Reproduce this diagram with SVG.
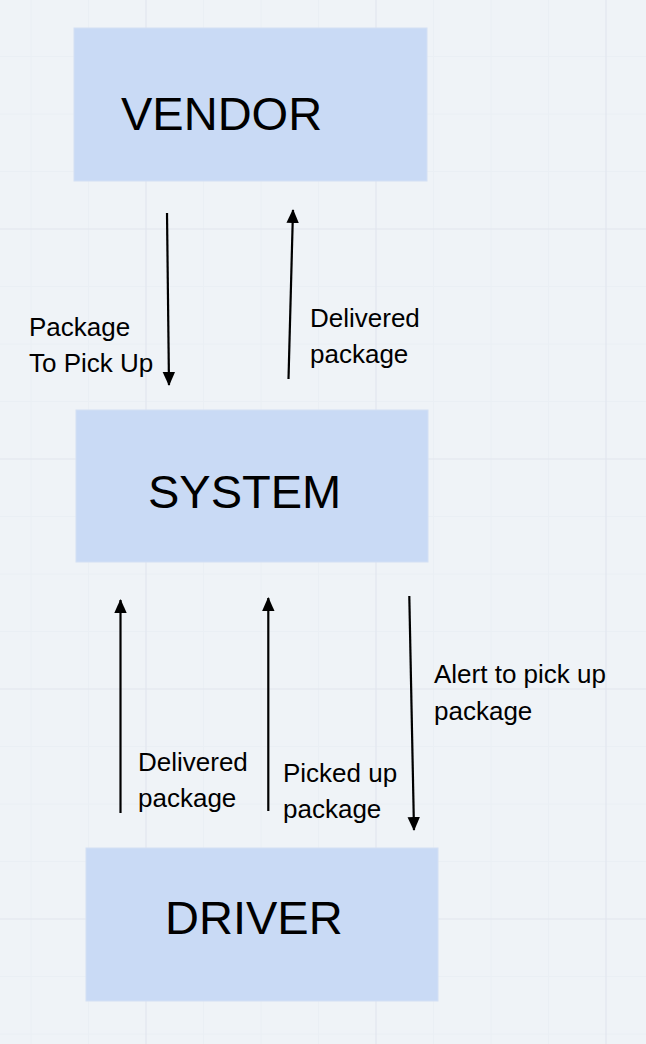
<svg xmlns="http://www.w3.org/2000/svg" width="646" height="1044" viewBox="0 0 646 1044">
  <style>
    .bg { fill: #eff3f7; }
    .minor { stroke: #eaeff4; stroke-width: 1; }
    .major { stroke: #e1e6ee; stroke-width: 1.2; }
    .box { fill: #c9daf5; stroke: #d3e0f4; stroke-width: 1; }
    .title { font-family: "Liberation Sans", Arial, sans-serif; font-size: 47px; fill: #000; }
    .lbl { font-family: "Liberation Sans", Arial, sans-serif; font-size: 26px; fill: #000; }
    .conn { stroke: #000; stroke-width: 2.2; fill: none; marker-end: url(#arrow); }
  </style>
  <defs>
    <marker id="arrow" viewBox="0 0 14 14" refX="13" refY="7" markerWidth="14" markerHeight="14" markerUnits="userSpaceOnUse" orient="auto">
      <path d="M0,0.8 L14,7 L0,13.2 Z" fill="#000"/>
    </marker>
  </defs>
  <rect class="bg" x="0" y="0" width="646" height="1044"/>
  <g id="grid">
    <g class="minor">
      <line x1="31" y1="0" x2="31" y2="1044"/>
      <line x1="88.5" y1="0" x2="88.5" y2="1044"/>
      <line x1="203.5" y1="0" x2="203.5" y2="1044"/>
      <line x1="261" y1="0" x2="261" y2="1044"/>
      <line x1="318.5" y1="0" x2="318.5" y2="1044"/>
      <line x1="433.5" y1="0" x2="433.5" y2="1044"/>
      <line x1="491" y1="0" x2="491" y2="1044"/>
      <line x1="548.5" y1="0" x2="548.5" y2="1044"/>
      <line x1="0" y1="56.5" x2="646" y2="56.5"/>
      <line x1="0" y1="114" x2="646" y2="114"/>
      <line x1="0" y1="171.5" x2="646" y2="171.5"/>
      <line x1="0" y1="286.5" x2="646" y2="286.5"/>
      <line x1="0" y1="344" x2="646" y2="344"/>
      <line x1="0" y1="401.5" x2="646" y2="401.5"/>
      <line x1="0" y1="516.5" x2="646" y2="516.5"/>
      <line x1="0" y1="574" x2="646" y2="574"/>
      <line x1="0" y1="631.5" x2="646" y2="631.5"/>
      <line x1="0" y1="746.5" x2="646" y2="746.5"/>
      <line x1="0" y1="804" x2="646" y2="804"/>
      <line x1="0" y1="861.5" x2="646" y2="861.5"/>
      <line x1="0" y1="976.5" x2="646" y2="976.5"/>
      <line x1="0" y1="1034" x2="646" y2="1034"/>
    </g>
    <g class="major">
      <line x1="146" y1="0" x2="146" y2="1044"/>
      <line x1="376" y1="0" x2="376" y2="1044"/>
      <line x1="606" y1="0" x2="606" y2="1044"/>
      <line x1="0" y1="229" x2="646" y2="229"/>
      <line x1="0" y1="459" x2="646" y2="459"/>
      <line x1="0" y1="689" x2="646" y2="689"/>
      <line x1="0" y1="919" x2="646" y2="919"/>
    </g>
  </g>
  <g id="vendor">
    <rect class="box" x="74" y="28" width="353" height="153"/>
    <text class="title" x="121" y="130">VENDOR</text>
  </g>
  <g id="system">
    <rect class="box" x="76" y="410" width="352" height="152"/>
    <text class="title" x="148" y="508">SYSTEM</text>
  </g>
  <g id="driver">
    <rect class="box" x="86" y="848" width="352" height="153"/>
    <text class="title" x="165" y="934">DRIVER</text>
  </g>
  <g id="connectors">
    <line class="conn" x1="167" y1="213" x2="169" y2="385"/>
    <line class="conn" x1="288.5" y1="379" x2="293" y2="210"/>
    <line class="conn" x1="120.5" y1="813" x2="120.5" y2="600"/>
    <line class="conn" x1="268.3" y1="811" x2="268.3" y2="598"/>
    <line class="conn" x1="409.3" y1="596" x2="414" y2="830"/>
  </g>
  <g id="labels">
    <text class="lbl" x="29" y="336">Package</text>
    <text class="lbl" x="29" y="372">To Pick Up</text>
    <text class="lbl" x="310" y="327">Delivered</text>
    <text class="lbl" x="310" y="363">package</text>
    <text class="lbl" x="138" y="771">Delivered</text>
    <text class="lbl" x="138" y="807">package</text>
    <text class="lbl" x="283" y="782">Picked up</text>
    <text class="lbl" x="283" y="818">package</text>
    <text class="lbl" x="434" y="683">Alert to pick up</text>
    <text class="lbl" x="434" y="720">package</text>
  </g>
</svg>
